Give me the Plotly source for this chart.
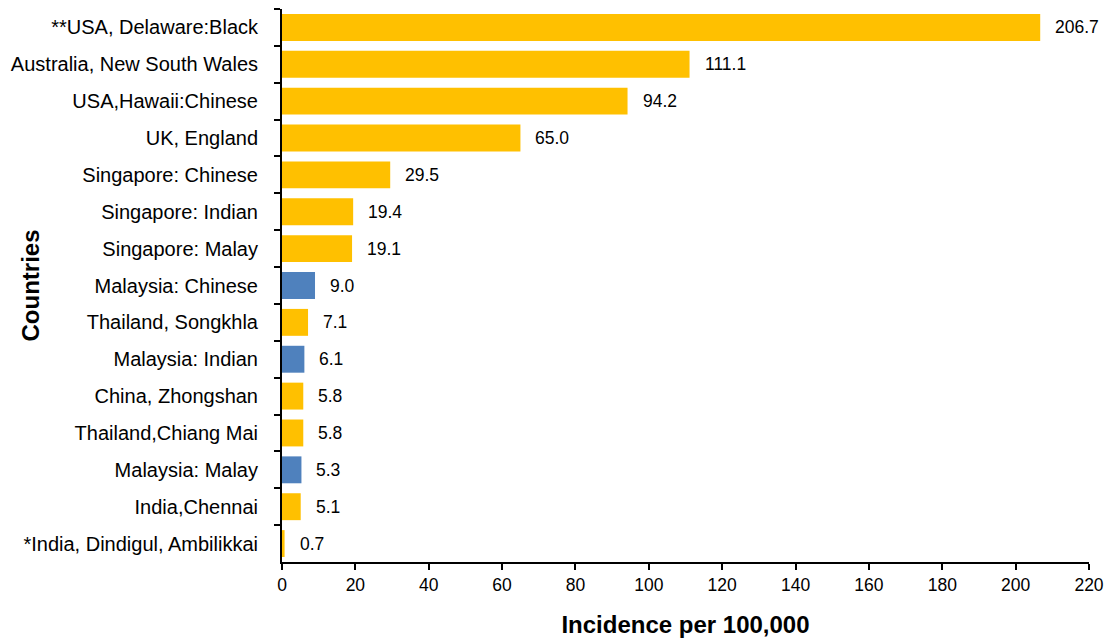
import plotly.graph_objects as go

countries = [
    "**USA, Delaware:Black",
    "Australia, New South Wales",
    "USA,Hawaii:Chinese",
    "UK, England",
    "Singapore: Chinese",
    "Singapore: Indian",
    "Singapore: Malay",
    "Malaysia: Chinese",
    "Thailand, Songkhla",
    "Malaysia: Indian",
    "China, Zhongshan",
    "Thailand,Chiang Mai",
    "Malaysia: Malay",
    "India,Chennai",
    "*India, Dindigul, Ambilikkai",
]
incidence = [206.7, 111.1, 94.2, 65.0, 29.5, 19.4, 19.1, 9.0, 7.1, 6.1, 5.8, 5.8, 5.3, 5.1, 0.7]
is_malaysia = [c.startswith("Malaysia") for c in countries]

ORANGE = "#FFC000"
BLUE = "#4F81BD"
colors = [BLUE if m else ORANGE for m in is_malaysia]

fig = go.Figure()
fig.add_trace(go.Bar(
    x=incidence,
    y=countries,
    orientation="h",
    marker=dict(color=colors, line=dict(width=0)),
    width=0.73,
    hoverinfo="x+y",
))

for c, v in zip(countries, incidence):
    fig.add_annotation(
        x=v, y=c, text=f"{v:.1f}", showarrow=False,
        xanchor="left", xshift=13,
        font=dict(family="Liberation Sans, Arial", size=17.5, color="#000000"),
    )

# y-axis title placed as an annotation so it can sit close to the labels
fig.add_annotation(
    x=0, y=0.5, xref="paper", yref="paper", xshift=-252,
    text="<b>Countries</b>", textangle=-90, showarrow=False,
    xanchor="center", yanchor="middle",
    font=dict(family="Liberation Sans, Arial", size=24, color="#000000"),
)

fig.update_layout(
    width=1108, height=642,
    margin=dict(l=282, r=19, t=9, b=80),
    paper_bgcolor="white", plot_bgcolor="white",
    showlegend=False,
    font=dict(family="Liberation Sans, Arial", color="#000000"),
    bargap=0.27,
)
fig.update_xaxes(
    range=[0, 220], tickmode="linear", tick0=0, dtick=20,
    showgrid=False, zeroline=False, automargin=False,
    showline=True, linecolor="#000000", linewidth=2,
    ticks="outside", ticklen=6, tickwidth=2, tickcolor="#000000",
    tickfont=dict(size=17.5),
    title=dict(text="<b>Incidence per 100,000</b>", font=dict(size=24), standoff=22),
)
fig.update_yaxes(
    categoryorder="array", categoryarray=countries, autorange="reversed",
    showgrid=False, zeroline=False, automargin=False,
    showline=True, linecolor="#000000", linewidth=2,
    ticks="outside", ticklen=6, tickwidth=2, tickcolor="#000000",
    tickson="boundaries", ticklabelstandoff=18,
    tickfont=dict(size=20),
)

fig.write_html(
    "out.html",
    config={"displayModeBar": False},
    post_script="document.body.style.margin='0';document.body.style.overflow='hidden';",
)
